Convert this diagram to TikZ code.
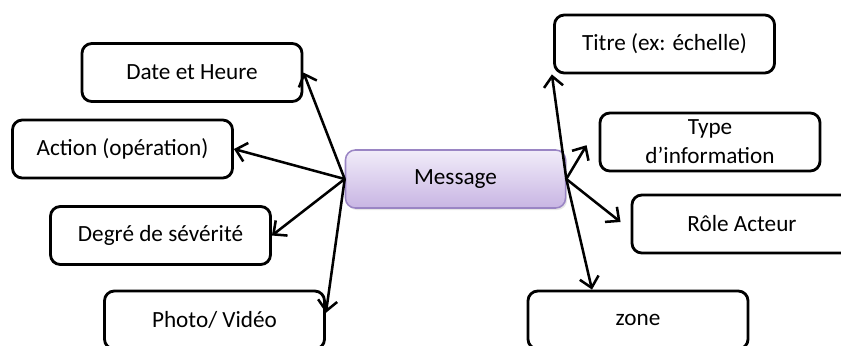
\documentclass[tikz,border=0pt]{standalone}
\usepackage{fontspec}
\setmainfont{Carlito}
\usetikzlibrary{positioning,arrows.meta,shadows}

\definecolor{msgtop}{HTML}{F1ECF9}
\definecolor{msgbot}{HTML}{C8B5E3}
\definecolor{msgline}{HTML}{9A85C4}

\begin{document}
\begin{tikzpicture}[x=0.025cm, y=-0.025cm,
  box/.style={draw, line width=2pt, rounded corners=7pt, minimum width=5.5cm,
    minimum height=1.45cm, inner sep=2pt, align=center,
    font=\fontsize{16.5}{20.6}\selectfont},
  msgbox/.style={box, draw=msgline, line width=1.1pt, top color=msgtop, bottom color=msgbot,
    drop shadow={opacity=0.2, shadow xshift=0.04cm, shadow yshift=-0.05cm}},
  arr/.style={-{Straight Barb[length=2.6mm,width=4.8mm,line width=1.8pt]}, line width=1.8pt}]
  % page frame
  \useasboundingbox (0,0) rectangle (841,345);
  \clip (0,0) rectangle (841,345);

  % central node
  \node[msgbox] (message) at (455.5,179) {Message};

  % boxes around it
  \foreach \name/\pos/\txt in {date/{192,72.5}/Date et Heure, action/{122.5,149}/Action (opération),
      degre/{160.5,235.5}/Degré de sévérité, photo/{214.5,320}/{Photo/ Vidéo},
      titre/{664.5,44}/Titre (ex: échelle), type/{710,142}/Type\\d’information,
      role/{742,224}/Rôle Acteur, zone/{638,320}/zone}
    \node[box] (\name) at (\pos) {\txt};

  % free ends of the arrows
  \coordinate (titreTip) at ([xshift=-0.03cm]titre.south west);
  \coordinate (zoneTip) at ([xshift=-1.15cm]zone.north);
  \coordinate (typeTip) at ([xshift=-0.3cm,yshift=-0.08cm]type.west);
  \coordinate (roleTip) at ([xshift=-0.25cm,yshift=0.05cm]role.west);

  % arrows to the left
  \foreach \b in {date, action, degre}
    \draw[arr] (message.west) -- (\b.east);
  \draw[arr] (message.west) -- ([yshift=0.18cm]photo.east);

  % arrows to the right
  \foreach \b in {titreTip, zoneTip, typeTip, roleTip}
    \draw[arr] (message.east) -- (\b);
\end{tikzpicture}
\end{document}
